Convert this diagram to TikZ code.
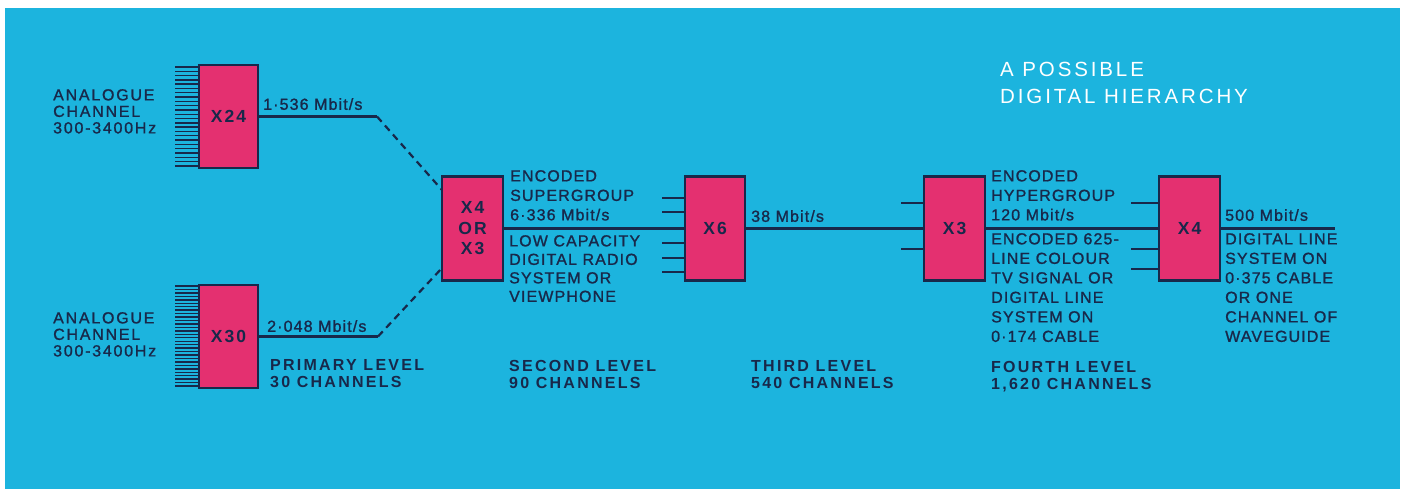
\documentclass[tikz,border=0pt]{standalone}
\usepackage{fontspec}
\setmainfont{Liberation Sans}
\newfontfamily\lblfont[LetterSpace=7,FakeBold=1.2]{Liberation Sans}
\newfontfamily\anfont[LetterSpace=11,FakeBold=1.2]{Liberation Sans}
\newfontfamily\lvfont[LetterSpace=14]{Liberation Sans}
\newfontfamily\boxfont[LetterSpace=12]{Liberation Sans}
\newfontfamily\ttlfont[LetterSpace=14]{Liberation Sans}
\definecolor{bgcyan}{RGB}{28,180,222}
\definecolor{boxmag}{RGB}{228,48,112}
\definecolor{ink}{RGB}{24,40,74}
\tikzset{
  x=1pt, y=-1pt,
  mux/.style={draw=ink, line width=2.4pt, fill=boxmag, inner sep=0pt, text=ink,
    minimum width=60pt, minimum height=104pt, align=center,
    font=\boxfont\bfseries\fontsize{17.5}{20.5}\selectfont},
  txt/.style={anchor=north west, inner sep=0pt, text=ink, align=left,
    font=\lblfont\fontsize{16}{19.5}\selectfont},
  antxt/.style={txt, font=\anfont\fontsize{16}{16.5}\selectfont},
  lvtxt/.style={txt, font=\lvfont\bfseries\fontsize{16}{17}\selectfont},
  ttl/.style={anchor=north west, inner sep=0pt, text=white, align=left,
    font=\ttlfont\fontsize{20.5}{27}\selectfont},
  wire/.style={draw=ink, line width=2.2pt},
  dwire/.style={wire, dash pattern=on 7pt off 5pt},
  comb/.style={draw=ink, line width=1.4pt}
}
\begin{document}
\begin{tikzpicture}
\useasboundingbox (0,0) rectangle (1408,489);
\fill[white] (0,0) rectangle (1408,489);
\fill[bgcyan] (5,8) rectangle (1400,489);

% multiplexer boxes
\node[mux, minimum width=59pt, minimum height=103pt] (a) at (228.5,116.5) {X24};
\node[mux, minimum width=59pt, minimum height=103pt] (b) at (228.5,336.5) {X30};
\node[mux, minimum width=61pt] (c) at (472.5,228.5) {X4\\OR\\X3};
\node[mux] (d) at (715,228.5) {X6};
\node[mux, minimum width=61pt] (e) at (954.5,228.5) {X3};
\node[mux, minimum width=61pt] (f) at (1189.5,228.5) {X4};

% input combs
\foreach \i in {0,...,23}
  \draw[comb] (a.west |- 0,{67+\i*4.3}) -- ++(-23,0);
\foreach \i in {0,...,29}
  \draw[comb] (b.west |- 0,{286+\i*3.45}) -- ++(-23,0);

% connectors
\coordinate (k1) at (377,116.5);
\coordinate (c1) at (442,190);
\coordinate (k2) at (378,336.5);
\coordinate (c2) at (442,268);
\draw[wire] (a.east) -- (k1);
\draw[dwire] (k1) -- (c1);
\draw[wire] (b.east) -- (k2);
\draw[dwire] (k2) -- (c2);
\draw[wire] (c.east) -- (d.west);
\draw[wire] (d.east) -- (e.west);
\draw[wire] (e.east) -- (f.west);
\coordinate (out) at (1335,228.5);
\draw[wire] (f.east) -- (out);

% stubs
\foreach \y in {198,212,243,258,272}
  \draw[wire] (d.west |- 0,\y) -- ++(-22,0);
\foreach \y in {203,249}
  \draw[wire] (e.west |- 0,\y) -- ++(-22,0);
\foreach \y in {203,249,269}
  \draw[wire] (f.west |- 0,\y) -- ++(-27,0);

% texts
\node[antxt] (an1) at (53,89) {ANALOGUE\\CHANNEL\\300-3400Hz};
\node[antxt] (an2) at (53,312) {ANALOGUE\\CHANNEL\\300-3400Hz};
\node[txt] (r1) at (263,98) {1·536 Mbit/s};
\node[txt] (r2) at (267,320) {2·048 Mbit/s};
\node[lvtxt] (lv1) at (270,359) {PRIMARY LEVEL\\30 CHANNELS};
\node[txt] (enc1) at (510,170) {ENCODED\\SUPERGROUP\\6·336 Mbit/s};
\node[txt, font=\lblfont\fontsize{16}{18.5}\selectfont] (low) at (509,235) {LOW CAPACITY\\DIGITAL RADIO\\SYSTEM OR\\VIEWPHONE};
\node[lvtxt] (lv2) at (509,360) {SECOND LEVEL\\90 CHANNELS};
\node[txt] (r3) at (751,210) {38 Mbit/s};
\node[lvtxt] (lv3) at (751,360) {THIRD LEVEL\\540 CHANNELS};
\node[txt] (enc2) at (991,170) {ENCODED\\HYPERGROUP\\120 Mbit/s};
\node[txt] (tv) at (991,233) {ENCODED 625-\\LINE COLOUR\\TV SIGNAL OR\\DIGITAL LINE\\SYSTEM ON\\0·174 CABLE};
\node[lvtxt] (lv4) at (991,361) {FOURTH LEVEL\\1,620 CHANNELS};
\node[txt] (r4) at (1225,209) {500 Mbit/s};
\node[txt] (dl) at (1225,233) {DIGITAL LINE\\SYSTEM ON\\0·375 CABLE\\OR ONE\\CHANNEL OF\\WAVEGUIDE};
\node[ttl] (title) at (1000,62) {A POSSIBLE\\DIGITAL HIERARCHY};
\end{tikzpicture}
\end{document}
